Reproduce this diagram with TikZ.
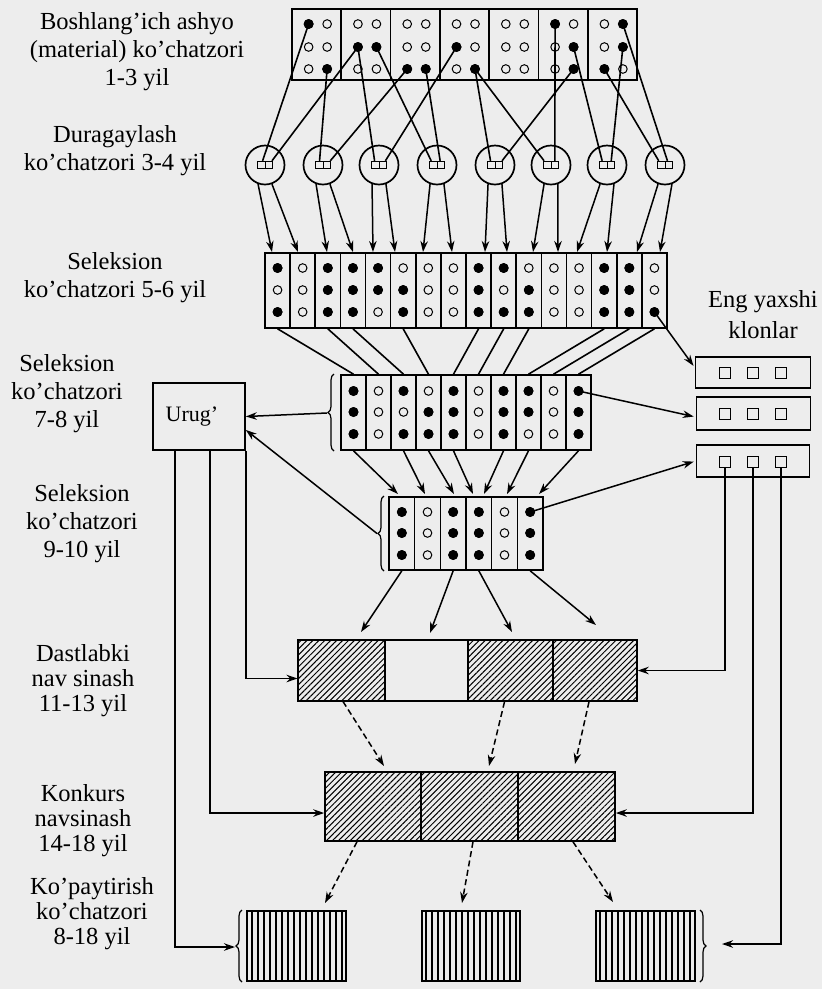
\documentclass[tikz,border=0pt]{standalone}
\usepackage{fontspec}
\setmainfont{Liberation Serif}
\usetikzlibrary{arrows.meta,patterns.meta,decorations.pathreplacing}
\definecolor{bgc}{gray}{0.93}
\begin{document}
\begin{tikzpicture}[x=1pt,y=-1pt,
  ln/.style={line width=1.6pt},
  arr/.style={line width=1.5pt,-{Stealth[length=11pt,width=7.5pt]}},
  darr/.style={arr,dash pattern=on 6pt off 3.5pt},
  odot/.style={circle,draw,line width=1pt,fill=bgc,minimum size=8.6pt,inner sep=0pt},
  cellbox/.style={rectangle,draw,line width=1.6pt,inner sep=0pt},
  cellA/.style={cellbox,minimum width=49.29pt,minimum height=71pt},
  cellC/.style={cellbox,minimum width=25.125pt,minimum height=75pt},
  cellD/.style={cellbox,minimum width=25pt,minimum height=75pt},
  cellE/.style={cellbox,minimum width=25.667pt,minimum height=73pt},
  hyb/.style={circle,draw,line width=1.7pt,minimum size=39pt,inner sep=0pt},
  tinysq/.style={rectangle,draw,line width=0.9pt,minimum size=7.5pt,inner sep=0pt},
  gsq/.style={rectangle,draw,line width=1.1pt,minimum size=11pt,inner sep=0pt},
  hatch/.style={cellbox,pattern={Lines[angle=45,distance=4.2pt,line width=1pt]}},
  vhatch/.style={cellbox,pattern={Lines[angle=90,distance=6pt,line width=1.4pt]}},
  brc/.style={decorate,decoration={brace,amplitude=6pt},line width=1.2pt},
  lab/.style={align=center,inner sep=0pt,font=\fontsize{24.5}{28}\selectfont},
  labt/.style={align=center,inner sep=0pt,font=\fontsize{24.5}{25}\selectfont},
]
\fill[bgc] (0,0) rectangle (822,989);
\useasboundingbox (0,0) rectangle (822,989);

% ---------- labels ----------
\node[lab] (L1) at (137,52) {Boshlang’ich ashyo\\(material) ko’chatzori\\1-3 yil};
\node[lab] (L2) at (115,151) {Duragaylash\\ko’chatzori 3-4 yil};
\node[lab] (L3) at (115,278) {Seleksion\\ko’chatzori 5-6 yil};
\node[lab] (L4) at (67,394) {Seleksion\\ko’chatzori\\7-8 yil};
\node[lab] (L5) at (82,524) {Seleksion\\ko’chatzori\\9-10 yil};
\node[labt] (L6) at (83,681) {Dastlabki\\nav sinash\\11-13 yil};
\node[labt] (L7) at (83,821) {Konkurs\\navsinash\\14-18 yil};
\node[labt] (L8) at (92,914) {Ko’paytirish\\ko’chatzori\\8-18 yil};
\node[align=center,inner sep=0pt,font=\fontsize{24.5}{31}\selectfont] (L9) at (763,315) {Eng yaxshi\\klonlar};

% ---------- top box A ----------
\foreach \i in {1,...,7} {
  \node[cellA] (A\i) at ({292+49.29*(\i-0.5)},44.5) {};
  \foreach \r/\yy in {1/24,2/47,3/69} {
    \node[odot] (A\i-\r-1) at ({292+49.29*(\i-0.5)-8},\yy) {};
    \node[odot] (A\i-\r-2) at ({292+49.29*(\i-0.5)+10.5},\yy) {};
  }
}
% ---------- hybrids B ----------
\foreach \i/\cx in {1/265,2/323,3/379,4/437,5/495,6/551,7/607,8/665} {
  \node[hyb] (B\i) at (\cx,165) {};
  \node[tinysq] (B\i-L) at (\cx-3.8,165) {};
  \node[tinysq] (B\i-R) at (\cx+3.8,165) {};
}
\foreach \s/\t in {A1-1-1/B1-L, A2-2-1/B1-R, A1-3-2/B2-L, A3-3-1/B2-R,
                   A2-2-1/B3-L, A4-2-1/B3-R, A2-2-2/B4-L, A3-3-2/B4-R,
                   A4-3-2/B5-L, A6-3-2/B5-R, A4-3-2/B6-L, A6-1-1/B6-R,
                   A6-2-2/B7-L, A7-2-2/B7-R, A7-3-1/B8-L, A7-1-2/B8-R}
  \draw[ln] (\s.center) -- (\t);
\foreach \n in {A1-1-1,A1-3-2,A2-2-1,A2-2-2,A3-3-1,A3-3-2,A4-2-1,A4-3-2,
                A6-1-1,A6-2-2,A6-3-2,A7-1-2,A7-2-2,A7-3-1}
  \fill (\n) circle[radius=5pt];

% ---------- selection 5-6 (C) ----------
\foreach \j in {1,...,16} {
  \node[cellC] (C\j) at ({265+25.125*(\j-0.5)},290.5) {};
  \foreach \r/\yy in {1/268,2/290,3/312}
    \node[odot] (C\j-\r) at ({265+25.125*(\j-0.5)},\yy) {};
}
\foreach \j/\x in {1/272,2/298,3/327,4/353,5/373,6/395,7/423,8/452,
                   9/485,10/507,11/533,12/558,13/577,14/607,15/637,16/660}
  \coordinate (Ct\j) at (\x,252);
\foreach \i/\a/\b in {1/1/2,2/3/4,3/5/6,4/7/8,5/9/10,6/11/12,7/13/14,8/15/16} {
  \draw[arr] (B\i.250) -- (Ct\a);
  \draw[arr] (B\i.290) -- (Ct\b);
}

% ---------- Eng yaxshi klonlar boxes (G) ----------
\node[cellbox,minimum width=115pt,minimum height=31pt] (G1) at (753,372.5) {};
\node[cellbox,minimum width=114pt,minimum height=33pt] (G2) at (753.5,413.5) {};
\node[cellbox,minimum width=113pt,minimum height=32pt] (G3) at (753,461) {};
\foreach \g/\yy in {1/373,2/414,3/462} {
  \node[gsq] (G\g a) at (725,\yy) {};
  \node[gsq] (G\g b) at (753,\yy) {};
  \node[gsq] (G\g c) at (781,\yy) {};
}

% ---------- selection 7-8 (D) ----------
\foreach \k in {1,...,10} {
  \node[cellD] (D\k) at ({341+25*(\k-0.5)},412.5) {};
  \foreach \r/\yy in {1/391,2/412,3/434}
    \node[odot] (D\k-\r) at ({341+25*(\k-0.5)},\yy) {};
}
\foreach \a/\b in {1/1,3/2,4/3,6/4,9/5,10/6,11/7,14/8,15/9,16/10}
  \draw[ln] (C\a.south) -- (D\b.north);

% ---------- selection 9-10 (E) ----------
\foreach \m in {1,...,6} {
  \node[cellE] (E\m) at ({389+25.667*(\m-0.5)},533.5) {};
  \foreach \r/\yy in {1/512,2/533,3/555}
    \node[odot] (E\m-\r) at ({389+25.667*(\m-0.5)},\yy) {};
}
\foreach \t/\x in {1/398,2/425,3/454,4/473,5/484,6/507,7/539}
  \coordinate (Et\t) at (\x,494);
\foreach \a/\t in {1/1,3/2,4/3,5/4,7/5,8/6,10/7}
  \draw[arr] (D\a.south) -- (Et\t);

% ---------- Urug' ----------
\node[cellbox,minimum width=92pt,minimum height=67pt,font=\fontsize{22}{24}\selectfont] (U) at (199,416.5) {\hspace*{-14pt}Urug’};
\draw[brc] (334,451) -- (334,374);
\coordinate (Dbr) at (327,413);
\draw[brc] (384,571) -- (384,496);
\coordinate (Ebr) at (377,533.5);
\draw[arr] (Dbr) -- (U.east);
\draw[arr] (Ebr) -- (U.-16);

% arrows to best clones
\draw[arr,shorten >=2pt] (C16-3.center) -- ([yshift=5pt]G1.west);
\draw[arr,shorten >=2pt] (D10-1.center) -- ([yshift=-3.5pt]G2.west);
\draw[arr,shorten >=2pt] (E6-1.center) -- (G3.west);

% filled dots C, D, E
\foreach \n in {C1-1,C1-3,C3-1,C3-2,C3-3,C4-1,C4-2,C4-3,C5-1,C5-2,C6-2,C6-3,
                C9-1,C9-2,C9-3,C10-1,C10-3,C11-2,C11-3,C14-1,C14-2,C14-3,
                C15-1,C15-2,C15-3,C16-3,
                D1-1,D1-2,D1-3,D3-1,D3-3,D4-2,D4-3,D5-1,D5-2,D5-3,
                D7-1,D7-2,D7-3,D8-1,D8-2,D10-1,D10-2,D10-3,
                E1-1,E1-2,E1-3,E3-1,E3-2,E3-3,E4-1,E4-2,E4-3,E6-1,E6-2,E6-3}
  \fill (\n) circle[radius=5pt];

% ---------- Dastlabki nav sinash (F) ----------
\node[hatch,minimum width=87pt,minimum height=61pt] (F1) at (341.5,670.5) {};
\node[cellbox,minimum width=83pt,minimum height=61pt] (F2) at (426.5,670.5) {};
\node[hatch,minimum width=85pt,minimum height=61pt] (F3) at (510.5,670.5) {};
\node[hatch,minimum width=84pt,minimum height=61pt] (F4) at (595,670.5) {};
\foreach \t/\x/\y in {1/361/632,2/430/633,3/512/632,4/596/625}
  \coordinate (Ft\t) at (\x,\y);
\foreach \a/\t in {1/1,3/2,4/3,6/4}
  \draw[arr] (E\a.south) -- (Ft\t);

% ---------- Konkurs (K) ----------
\node[hatch,minimum width=96pt,minimum height=69pt] (K1) at (373,806.5) {};
\node[hatch,minimum width=97pt,minimum height=69pt] (K2) at (469.5,806.5) {};
\node[hatch,minimum width=97pt,minimum height=69pt] (K3) at (566.5,806.5) {};
\coordinate (Kt1) at (384,766);
\coordinate (Kt2) at (489,766);
\coordinate (Kt3) at (575,764);
\draw[darr] ([xshift=1.5pt]F1.south) -- (Kt1);
\draw[darr] ([xshift=-6pt]F3.south) -- (Kt2);
\draw[darr] ([xshift=-6pt]F4.south) -- (Kt3);

% ---------- Ko'paytirish (P) ----------
\node[vhatch,minimum width=99pt,minimum height=70pt] (P1) at (296.5,946) {};
\node[vhatch,minimum width=98pt,minimum height=70pt] (P2) at (471,946) {};
\node[vhatch,minimum width=99pt,minimum height=70pt] (P3) at (645.5,946) {};
\coordinate (Pt1) at (325,903);
\coordinate (Pt2) at (462,903);
\coordinate (Pt3) at (613,902);
\draw[darr] ([xshift=-16pt]K1.south) -- (Pt1);
\draw[darr] ([xshift=3.5pt]K2.south) -- (Pt2);
\draw[darr] ([xshift=6.5pt]K3.south) -- (Pt3);
\draw[brc] (242,982) -- (242,910);
\draw[brc] (700,910) -- (700,982);
\coordinate (P1br) at (235,947);
\coordinate (P3in) at (722,944);

% ---------- seed and clone feeds ----------
\draw[arr] (U.south east) |- ([yshift=-8pt]F1.west);
\draw[arr] ([xshift=58pt]U.south west) |- ([yshift=-6.5pt]K1.west);
\draw[arr] ([xshift=23pt]U.south west) |- (P1br);
\draw[arr] (G3a.south) |- (F4.east);
\draw[arr] (G3b.south) |- ([yshift=-6.5pt]K3.east);
\draw[arr] (G3c.south) |- (P3in);
\end{tikzpicture}
\end{document}
